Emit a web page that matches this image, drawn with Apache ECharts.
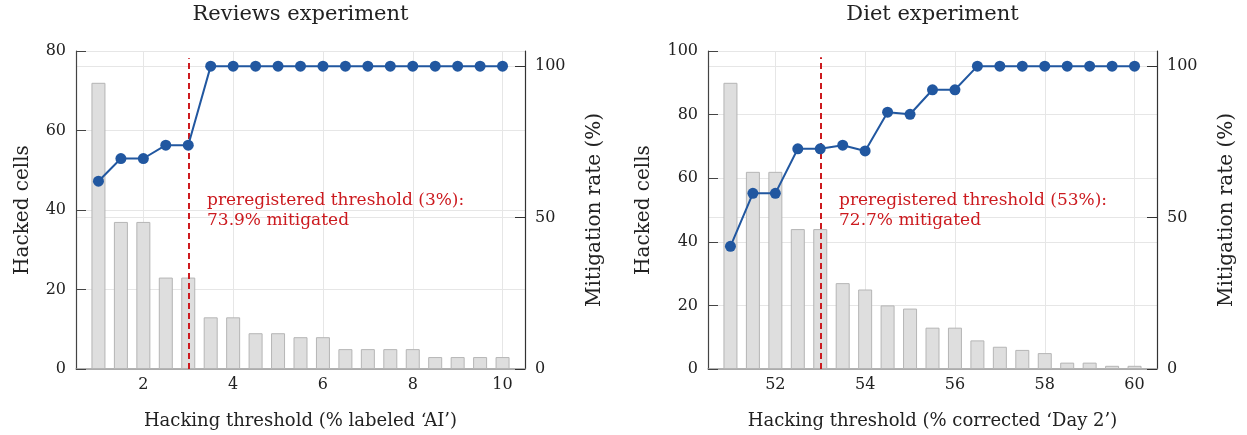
<!DOCTYPE html>
<html><head><meta charset="utf-8">
<script src="https://cdn.jsdelivr.net/npm/echarts@6/dist/echarts.min.js"></script>
<style>html,body{margin:0;padding:0;background:#fff}#c{width:1247px;height:435px}</style>
</head><body><div id="c"></div>
<script>
const reviewsX = [1,1.5,2,2.5,3,3.5,4,4.5,5,5.5,6,6.5,7,7.5,8,8.5,9,9.5,10];
const reviewsHacked = [72,37,37,23,23,13,13,9,9,8,8,5,5,5,5,3,3,3,3];
const reviewsMitigation = [62,69.5,69.5,73.9,73.9,100,100,100,100,100,100,100,100,100,100,100,100,100,100];
const dietX = [51,51.5,52,52.5,53,53.5,54,54.5,55,55.5,56,56.5,57,57.5,58,58.5,59,59.5,60];
const dietHacked = [90,62,62,44,44,27,25,20,19,13,13,9,7,6,5,2,2,1,1];
const dietMitigation = [40.5,58,58,72.7,72.7,73.9,72.0,84.8,84.1,92.2,92.2,100,100,100,100,100,100,100,100];
const reviewsXTicks = [2,4,6,8,10];
const dietXTicks = [52,54,56,58,60];
const rateTicks = [0,50,100];
const thresholds = [3, 53];
const thresholdLineTop = [78.2, 98];
const titles = ['Reviews experiment', 'Diet experiment'];
const xNames = ['Hacking threshold (% labeled \u2018AI\u2019)', 'Hacking threshold (% corrected \u2018Day 2\u2019)'];
const notes = ['preregistered threshold (3%):\n73.9% mitigated', 'preregistered threshold (53%):\n72.7% mitigated'];

const FONT = 'DejaVu Serif';
const BLUE = '#2157a0';
const RED = '#cc1a1f';
const GRID = '#e6e6e6';
const zip = (a, b) => a.map((v, i) => [v, b[i]]);

const chart = echarts.init(document.getElementById('c'), null, {renderer: 'canvas'});

function xAxis(idx, min, max, ticks, name) {
  return {
    type: 'value', gridIndex: idx, min: min, max: max,
    name: name, nameLocation: 'middle', nameGap: 43,
    nameTextStyle: {fontFamily: FONT, fontSize: 18, color: '#222'},
    axisLine: {show: true, lineStyle: {color: '#999', width: 1.5}},
    axisTick: {show: false, customValues: ticks},
    axisLabel: {customValues: ticks, fontFamily: FONT, fontSize: 16, color: '#222', margin: 8},
    splitLine: {show: true, lineStyle: {color: GRID, width: 1}}
  };
}
function yLeft(idx, max, gap) {
  return {
    type: 'value', gridIndex: idx, min: 0, max: max, interval: 20, position: 'left',
    name: 'Hacked cells', nameLocation: 'middle', nameGap: gap,
    nameTextStyle: {fontFamily: FONT, fontSize: 20, color: '#222'},
    axisLine: {show: true, lineStyle: {color: '#444', width: 1.2}},
    axisTick: {show: true, inside: true, length: 10, lineStyle: {color: '#444'}},
    axisLabel: {fontFamily: FONT, fontSize: 16, color: '#222', margin: 10},
    splitLine: {show: true, lineStyle: {color: GRID, width: 1}}
  };
}
function yRight(idx) {
  return {
    type: 'value', gridIndex: idx, min: 0, max: 105, position: 'right',
    name: 'Mitigation rate (%)', nameLocation: 'middle', nameGap: 60,
    nameTextStyle: {fontFamily: FONT, fontSize: 20, color: '#222'},
    axisLine: {show: true, lineStyle: {color: '#333', width: 1.2}},
    axisTick: {show: true, inside: true, length: 10, customValues: rateTicks, lineStyle: {color: '#333'}},
    axisLabel: {customValues: rateTicks, fontFamily: FONT, fontSize: 16, color: '#222', margin: 10},
    splitLine: {show: true, lineStyle: {color: GRID, width: 1}}
  };
}
function barSeries(idx, x, vals, thr, top) {
  return {
    type: 'bar', xAxisIndex: idx, yAxisIndex: idx * 2, data: zip(x, vals), barWidth: 14,
    itemStyle: {color: '#dedede', borderColor: '#b5b5b5', borderWidth: 1},
    markLine: {
      silent: true, symbol: ['none', 'none'], label: {show: false},
      lineStyle: {color: RED, type: [6, 4], width: 2},
      data: [[{coord: [thr, 0]}, {coord: [thr, top]}]]
    }
  };
}
function lineSeries(idx, x, vals) {
  return {
    type: 'line', xAxisIndex: idx, yAxisIndex: idx * 2 + 1, data: zip(x, vals),
    symbol: 'circle', symbolSize: 11, color: BLUE,
    lineStyle: {color: BLUE, width: 2}, itemStyle: {color: BLUE}, z: 5
  };
}

const gridLefts = [76, 708];
const option = {
  animation: false,
  backgroundColor: '#fff',
  grid: [
    {left: gridLefts[0], top: 51, width: 449, height: 318},
    {left: gridLefts[1], top: 51, width: 449, height: 318}
  ],
  xAxis: [
    xAxis(0, 0.5, 10.5, reviewsXTicks, xNames[0]),
    xAxis(1, 50.5, 60.5, dietXTicks, xNames[1])
  ],
  yAxis: [yLeft(0, 80, 43), yRight(0), yLeft(1, 100, 54), yRight(1)],
  series: [
    barSeries(0, reviewsX, reviewsHacked, thresholds[0], thresholdLineTop[0]),
    lineSeries(0, reviewsX, reviewsMitigation),
    barSeries(1, dietX, dietHacked, thresholds[1], thresholdLineTop[1]),
    lineSeries(1, dietX, dietMitigation)
  ],
  graphic: [
    {type: 'text', x: gridLefts[0] + 224.5, y: 15, style: {text: titles[0], font: '21px "' + FONT + '"', fill: '#222', textAlign: 'center', textVerticalAlign: 'middle'}},
    {type: 'text', x: gridLefts[1] + 224.5, y: 15, style: {text: titles[1], font: '21px "' + FONT + '"', fill: '#222', textAlign: 'center', textVerticalAlign: 'middle'}},
    {type: 'text', x: 207, y: 191, z: 10, style: {text: notes[0], font: '17px "' + FONT + '"', fill: RED, lineHeight: 20}},
    {type: 'text', x: 839, y: 191, z: 10, style: {text: notes[1], font: '17px "' + FONT + '"', fill: RED, lineHeight: 20}}
  ]
};
chart.setOption(option);
</script>
</body></html>
